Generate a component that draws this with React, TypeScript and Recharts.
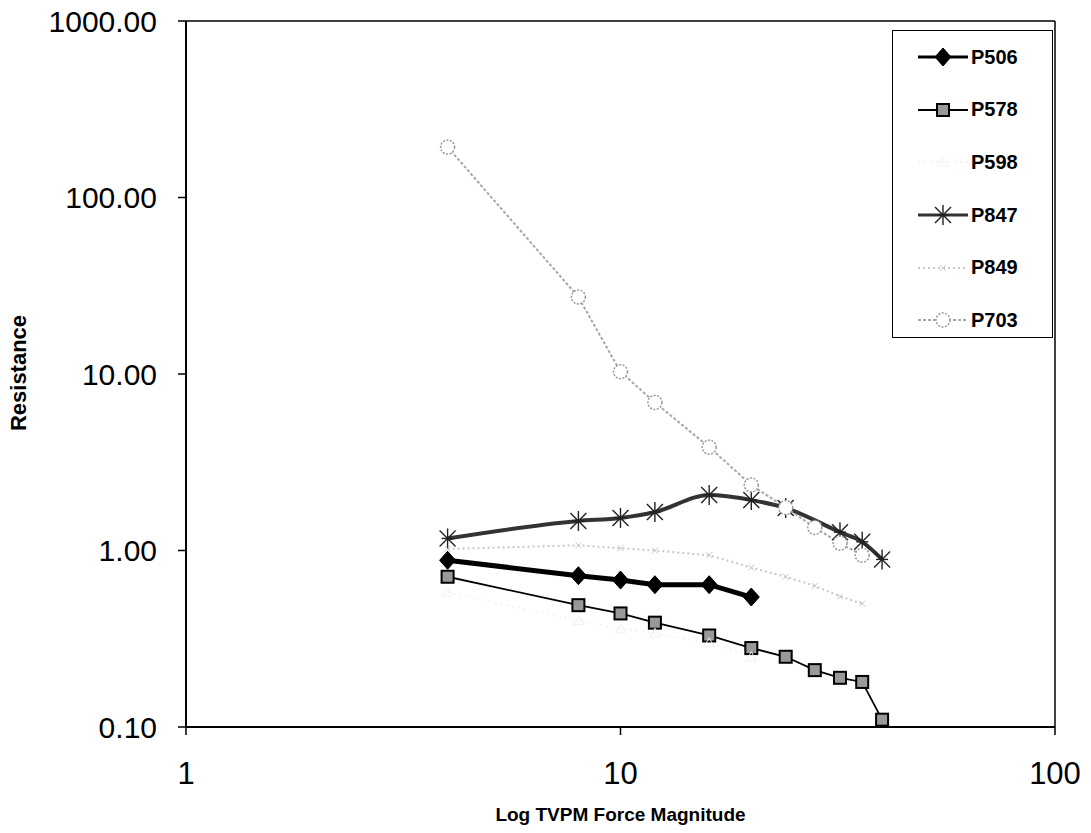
import React from 'react';
import { LineChart, Line, XAxis, YAxis, Legend, ReferenceLine } from 'recharts';

// axis ticks
const xTicks = [1, 10, 100];
const yTicks = [0.1, 1, 10, 100, 1000];

// series values
const p506X = [4, 8, 10, 12, 16, 20];
const p506Y = [0.88, 0.72, 0.68, 0.64, 0.64, 0.545];

const p578X = [4, 8, 10, 12, 16, 20, 24, 28, 32, 36, 40];
const p578Y = [0.71, 0.49, 0.44, 0.39, 0.33, 0.28, 0.25, 0.21, 0.19, 0.18, 0.11];

const p598X = [4, 8, 10, 12, 16, 20];
const p598Y = [0.58, 0.4, 0.36, 0.34, 0.3, 0.25];

const p847X = [4, 8, 10, 12, 16, 20, 24, 32, 36, 40];
const p847Y = [1.17, 1.47, 1.53, 1.65, 2.06, 1.93, 1.74, 1.27, 1.12, 0.89];

const p849X = [4, 8, 10, 12, 16, 20, 24, 28, 32, 36];
const p849Y = [1.02, 1.07, 1.03, 1.0, 0.94, 0.8, 0.71, 0.63, 0.55, 0.5];

const p703X = [4, 8, 10, 12, 16, 20, 24, 28, 32, 36];
const p703Y = [193, 27.3, 10.3, 6.9, 3.85, 2.35, 1.75, 1.35, 1.1, 0.94];

const toPoints = (xs: number[], ys: number[]) => xs.map((x, i) => ({ x, y: ys[i] }));

type MarkerProps = { cx: number; cy: number };

const Diamond = ({ cx, cy }: MarkerProps) => (
    <path d={`M${cx},${cy - 9} L${cx + 8},${cy} L${cx},${cy + 9} L${cx - 8},${cy} Z`} fill="#000" stroke="#000" />
);

const Square = ({ cx, cy }: MarkerProps) => (
    <rect x={cx - 6} y={cy - 6} width={12} height={12} fill="#999" stroke="#000" strokeWidth={2} />
);

const Triangle = ({ cx, cy }: MarkerProps) => (
    <path d={`M${cx},${cy - 5} L${cx + 5},${cy + 4} L${cx - 5},${cy + 4} Z`} fill="none" stroke="#f0f0f0" />
);

const Asterisk = ({ cx, cy }: MarkerProps) => (
    <g stroke="#222" strokeWidth={1.4}>
        <line x1={cx} y1={cy - 10} x2={cx} y2={cy + 10} />
        <line x1={cx - 8} y1={cy - 8} x2={cx + 8} y2={cy + 8} />
        <line x1={cx - 8} y1={cy + 8} x2={cx + 8} y2={cy - 8} />
        <line x1={cx - 6} y1={cy} x2={cx + 6} y2={cy} />
    </g>
);

const SmallCross = ({ cx, cy }: MarkerProps) => (
    <g stroke="#c8c8c8" strokeWidth={1}>
        <line x1={cx - 3} y1={cy - 3} x2={cx + 3} y2={cy + 3} />
        <line x1={cx - 3} y1={cy + 3} x2={cx + 3} y2={cy - 3} />
    </g>
);

const Circle = ({ cx, cy }: MarkerProps) => (
    <circle cx={cx} cy={cy} r={7} fill="#fff" stroke="#999" strokeWidth={1.5} strokeDasharray="2 1.5" />
);

const series = [
    { name: 'P506', data: toPoints(p506X, p506Y), color: '#000', width: 5, dash: undefined, type: 'linear', Marker: Diamond },
    { name: 'P578', data: toPoints(p578X, p578Y), color: '#000', width: 1.8, dash: undefined, type: 'linear', Marker: Square },
    { name: 'P598', data: toPoints(p598X, p598Y), color: '#f0f0f0', width: 1.5, dash: '2 4', type: 'linear', Marker: Triangle },
    { name: 'P847', data: toPoints(p847X, p847Y), color: '#333', width: 4, dash: undefined, type: 'monotone', Marker: Asterisk },
    { name: 'P849', data: toPoints(p849X, p849Y), color: '#c8c8c8', width: 2, dash: '2 3', type: 'linear', Marker: SmallCross },
    { name: 'P703', data: toPoints(p703X, p703Y), color: '#a8a8a8', width: 2, dash: '3 2', type: 'linear', Marker: Circle },
];

const LegendBox = () => (
    <div
        style={{
            width: 161,
            height: 308,
            boxSizing: 'border-box',
            border: '1.5px solid #000',
            background: '#fff',
            paddingTop: 0,
        }}
    >
        {series.map(s => (
            <div key={s.name} style={{ display: 'flex', alignItems: 'center', height: 52.6 }}>
                <svg width={76} height={24} style={{ marginLeft: 1 }}>
                    <line x1={24} y1={12} x2={74} y2={12} stroke={s.color} strokeWidth={Math.min(s.width, 3)} strokeDasharray={s.dash} />
                    <s.Marker cx={49} cy={12} />
                </svg>
                <span style={{ fontWeight: 700, fontSize: 20, marginLeft: 1, color: '#000' }}>{s.name}</span>
            </div>
        ))}
    </div>
);

export default function App() {
    return (
        <div style={{ position: 'absolute', left: 0, top: 0, background: '#fff', fontFamily: '"Liberation Sans", Arial, sans-serif' }}>
            <LineChart width={1091} height={833} margin={{ top: 21, right: 36, left: 0, bottom: 0 }}>
                <XAxis
                    type="number"
                    dataKey="x"
                    scale="log"
                    domain={[1, 100]}
                    ticks={xTicks}
                    interval={0}
                    allowDataOverflow
                    height={106}
                    tickSize={8}
                    tickMargin={27}
                    axisLine={{ stroke: '#000', strokeWidth: 2 }}
                    tickLine={{ stroke: '#000', strokeWidth: 1.5 }}
                    tick={{ fill: '#000', fontSize: 31 }}
                    label={{ value: 'Log TVPM Force Magnitude', position: 'insideBottom', offset: 12, fill: '#000', fontSize: 19, fontWeight: 700 }}
                />
                <YAxis
                    type="number"
                    dataKey="y"
                    scale="log"
                    domain={[0.1, 1000]}
                    ticks={yTicks}
                    interval={0}
                    allowDataOverflow
                    width={186}
                    tickSize={8}
                    tickMargin={21}
                    tickFormatter={(v: number) => v.toFixed(2)}
                    axisLine={{ stroke: '#000', strokeWidth: 2 }}
                    tickLine={{ stroke: '#000', strokeWidth: 1.5 }}
                    tick={{ fill: '#000', fontSize: 30 }}
                    label={() => (
                        <text x={18} y={373} transform="rotate(-90 18 373)" textAnchor="middle" dominantBaseline="central" fill="#000" fontSize={22} fontWeight={700}>
                            Resistance
                        </text>
                    )}
                />
                <ReferenceLine y={1000} stroke="#000" strokeWidth={1.5} />
                <ReferenceLine x={100} stroke="#000" strokeWidth={1.5} />
                {series.map(s => (
                    <Line
                        key={s.name}
                        name={s.name}
                        data={s.data}
                        dataKey="y"
                        type={s.type as 'linear' | 'monotone'}
                        stroke={s.color}
                        strokeWidth={s.width}
                        strokeDasharray={s.dash}
                        isAnimationActive={false}
                        activeDot={false}
                        dot={(p: any) => <s.Marker key={`${s.name}-${p.index}`} cx={p.cx} cy={p.cy} />}
                    />
                ))}
                <Legend
                    layout="horizontal"
                    verticalAlign="middle"
                    align="center"
                    wrapperStyle={{ position: 'absolute', left: 892, top: 30, width: 161, height: 308, margin: 0 }}
                    content={() => <LegendBox />}
                />
            </LineChart>
        </div>
    );
}
